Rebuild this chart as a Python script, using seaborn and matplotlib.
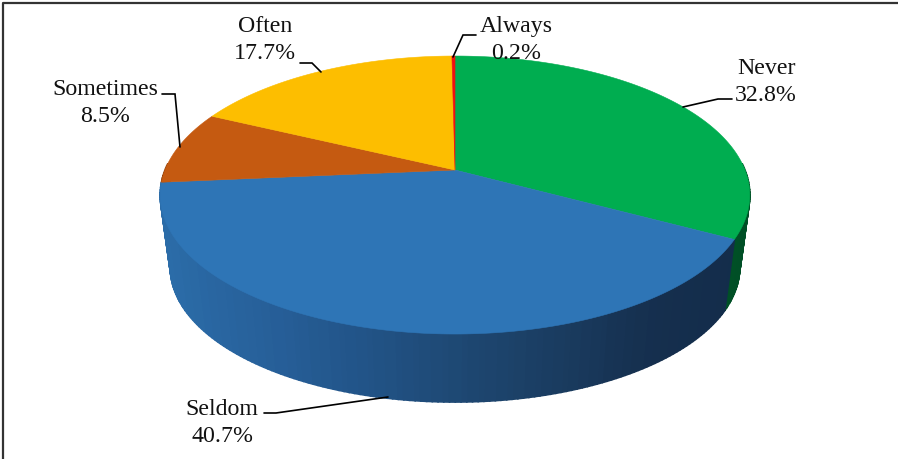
import matplotlib
matplotlib.use('Agg')
import matplotlib.pyplot as plt
import seaborn as sns
import numpy as np

# slices, clockwise from 12 o'clock
categories = ['Never', 'Seldom', 'Sometimes', 'Often', 'Always']
percents = [32.8, 40.7, 8.5, 17.7, 0.2]
top_colors = ['#00ad50', '#2e75b6', '#c55a11', '#fdbe00', '#f01010']

# side wall shades, left to right on screen
wall_shades = {
    'Never': ['#00602e', '#004f26'],
    'Seldom': ['#2b6ca8', '#27609a', '#225488', '#1e4873', '#1a3c60', '#152f4e', '#132c4a'],
    'Sometimes': ['#8a3f0c', '#8a3f0c'],
    'Often': ['#b28500', '#b28500'],
    'Always': ['#a00000', '#a00000'],
}

label_pos = [(766, 82), (222, 423), (105, 103), (265, 40), (516, 40)]
leaders = [
    [(732, 100), (718, 100), (683, 108)],
    [(264, 414), (276, 414), (388, 398)],
    [(162, 95), (175, 95), (180, 148)],
    [(300, 64), (312, 64), (321, 73)],
    [(476, 36), (463, 36), (453, 58)],
]

# perspective ellipses in pixels: top face, then the smaller bottom face
CX = 455
TOP = dict(cy=171, rx=290, ry=134.5)
BOTTOM = dict(cy=244.5, rx=280, ry=130)
K = 0.18


def project(theta, face):
    u, v = np.sin(theta), np.cos(theta)
    w = 1 + K * v
    return CX + face['rx'] * u / w, face['cy'] - face['ry'] * v / w


sns.set_theme(style='white')
plt.rcParams['font.family'] = ['Liberation Serif', 'DejaVu Serif']

fig, ax = plt.subplots(figsize=(8.98, 4.6), dpi=100)
fig.subplots_adjust(0, 0, 1, 1)
ax.set_xlim(0, 898)
ax.set_ylim(460, 0)
ax.axis('off')

edges = np.cumsum([0] + percents) / sum(percents) * 2 * np.pi

# side wall, back to front
quads = []
for i, name in enumerate(categories):
    ts = np.linspace(edges[i], edges[i + 1], max(3, int((edges[i + 1] - edges[i]) * 60)))
    shades = sns.blend_palette(wall_shades[name], n_colors=64)
    for a, b in zip(ts[:-1], ts[1:]):
        # back part of the wall is hidden behind the top face
        if np.cos((a + b) / 2) > 0.05:
            continue
        xa, ya = project(a, TOP)
        xb, yb = project(b, TOP)
        xc, yc = project(b, BOTTOM)
        xd, yd = project(a, BOTTOM)
        quads.append((np.cos((a + b) / 2), [xa, xb, xc, xd], [ya, yb, yc, yd], shades))

seldom_x = (165, 745)
for _, xs, ys, shades in sorted(quads, key=lambda q: -q[0]):
    f = np.clip((np.mean(xs) - seldom_x[0]) / (seldom_x[1] - seldom_x[0]), 0, 1)
    c = shades[int(f * 63)]
    ax.fill(xs, ys, color=c, linewidth=1.2, zorder=2)

# top face
for i, color in enumerate(top_colors):
    ts = np.linspace(edges[i], edges[i + 1], max(4, int((edges[i + 1] - edges[i]) * 120)))
    xs, ys = project(ts, TOP)
    ax.fill(np.r_[CX, xs], np.r_[TOP['cy'], ys], color=color, linewidth=0.4, zorder=3)

for name, pct, (x, y), pts in zip(categories, percents, label_pos, leaders):
    ax.text(x, y, f'{name}\n{pct}%', ha='center', va='center', fontsize=17.2,
            color='#111111', linespacing=1.42, zorder=5)
    lx, ly = zip(*pts)
    ax.plot(lx, ly, color='black', lw=1.2, zorder=4, solid_joinstyle='miter')

# picture frame: only left and top survive the crop
ax.plot([2.5, 2.5, 898], [460, 4, 4], color='#333333', lw=1.6, zorder=6, clip_on=False)

fig.savefig('out.png', dpi=100, facecolor='white')
